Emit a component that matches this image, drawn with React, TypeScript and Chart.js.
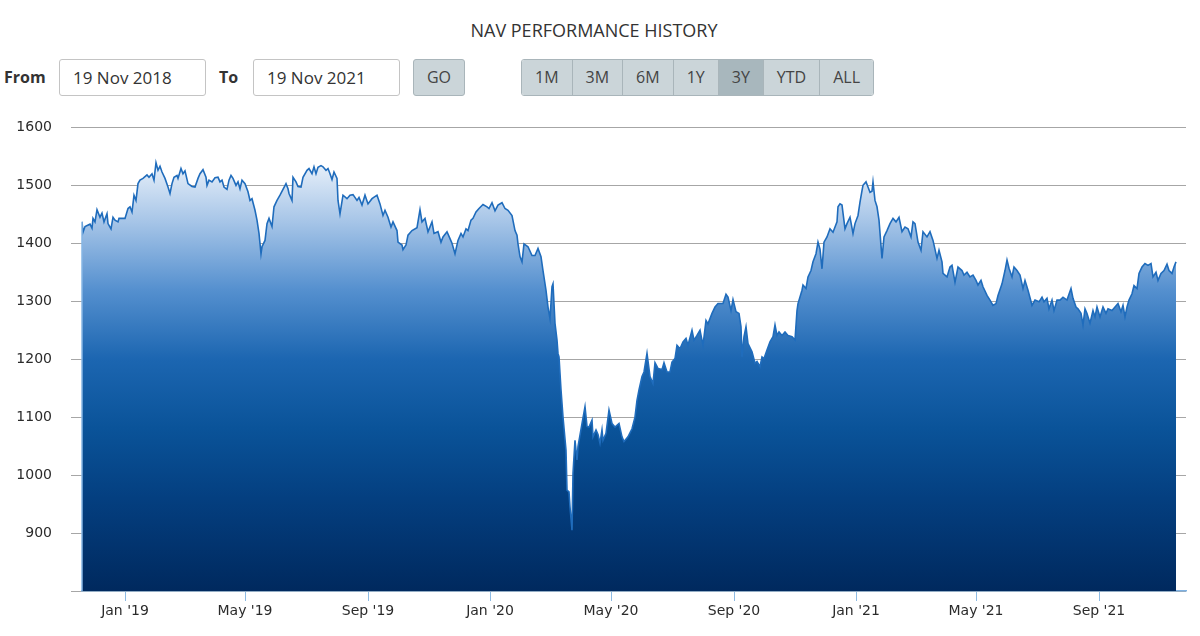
import React, { useEffect, useRef } from 'react';
import { Chart, registerables } from 'chart.js';

Chart.register(...registerables);

// ---- Data (days since 19 Nov 2018, NAV values) ----
const startDate = [2018, 10, 19];

const dayOffsets = [
  0, 1, 3, 8, 10, 11, 13, 15, 18, 20, 22, 25, 26, 29, 31, 33, 36, 37, 43, 46, 48, 50, 52, 54, 56, 58, 61, 65, 67, 70,
  72, 74, 76, 78, 80, 83, 86, 88, 90, 92, 95, 96, 99, 101, 103, 106, 110, 113, 116, 118, 121, 124, 125, 127, 130, 133,
  136, 138, 140, 142, 145, 147, 149, 151, 154, 156, 158, 160, 163, 166, 168, 170, 173, 175, 177, 179, 180, 183, 185,
  187, 190, 192, 195, 198, 201, 204, 206, 207, 210, 211, 214, 216, 219, 221, 225, 227, 230, 232, 234, 236, 239, 241,
  244, 246, 248, 250, 252, 255, 256,
  258, 261, 265, 268, 271, 275, 277, 280, 283, 286, 290, 295, 298, 301, 303, 306, 309, 311, 315, 316, 320, 321, 324,
  326, 330, 335, 338, 340, 343, 346, 350, 352, 356, 359, 361, 365, 368, 370, 373, 376, 379, 381, 384, 386, 389, 391,
  394, 397, 401, 405, 407, 410, 413, 416, 420, 423, 426, 430, 433, 435, 436, 438, 440, 442, 446, 450, 453, 456, 459,
  461, 464, 466, 468, 470, 471, 473, 475, 476, 477, 479, 481, 484, 485, 487, 488, 490, 491, 493, 495, 496, 500, 503,
  505, 507, 510, 511, 514, 516, 518, 520, 521, 524, 527, 530, 533, 537, 540, 542, 546, 550, 553, 555, 557, 560, 562,
  565, 568, 571, 573, 576, 580, 582, 585, 588, 590, 593, 595, 598, 601, 604, 606, 610, 612, 615, 618, 621, 624, 626,
  630, 633, 636, 641, 644, 646, 649, 651, 654, 657, 659, 660, 662, 664, 666, 670, 673, 675, 678, 680, 682, 685, 688,
  691, 693, 695, 697, 700, 703, 706, 710, 713, 715, 716, 720, 721, 724, 726, 729, 731, 734, 736, 738, 740, 742, 745,
  748, 751, 755, 756, 758, 760, 763, 765, 768, 771, 773, 776, 778, 780, 781, 784, 786, 788, 790, 791, 793, 795, 797,
  800, 802, 805, 808, 811, 814, 817,
  820, 823, 826, 829, 831, 833, 836, 839, 841, 845, 848, 851, 855, 857, 860, 861, 865, 868, 870, 873, 876, 880, 882,
  885, 888, 891, 894, 896, 899, 901, 905, 908, 911, 914, 916, 920, 923, 925, 927, 930, 932, 935, 938, 941, 943, 946,
  950, 953, 957, 960, 962, 965, 967, 970, 972, 975, 978, 981, 985, 989, 991, 994, 996, 999, 1001, 1003, 1005, 1008,
  1011, 1013, 1015, 1018, 1021, 1024, 1026, 1030, 1033, 1036, 1039, 1041, 1043, 1045, 1047, 1050, 1052, 1055, 1057,
  1060, 1063, 1066, 1069, 1071, 1074, 1076, 1079, 1082, 1085, 1087, 1090, 1092, 1094,
];

const navValues = [
  1437, 1419, 1429, 1433, 1426, 1443, 1437, 1458, 1445, 1452, 1437, 1451, 1434, 1425, 1445, 1440, 1437, 1443, 1443,
  1460, 1463, 1454, 1483, 1474, 1503, 1509, 1512, 1518, 1514, 1520, 1509, 1539, 1526, 1533, 1523, 1512, 1497, 1486,
  1503, 1514, 1517, 1512, 1529, 1520, 1525, 1503, 1498, 1497, 1512, 1520, 1527, 1514, 1500, 1509, 1506, 1513, 1514,
  1506, 1509, 1497, 1493, 1509, 1517, 1512, 1500, 1506, 1494, 1509, 1503, 1489, 1474, 1477, 1457, 1440, 1417, 1382,
  1394, 1405, 1434, 1443, 1429, 1463, 1474, 1483, 1493, 1503, 1494, 1486, 1474, 1514, 1506, 1498, 1497, 1514, 1526,
  1529, 1520, 1532, 1520, 1531, 1534, 1532, 1526, 1529, 1520, 1510, 1523, 1512, 1474,
  1451, 1483, 1477, 1483, 1484, 1474, 1479, 1466, 1483, 1468, 1477, 1483, 1468, 1448, 1457, 1445, 1428, 1437, 1422,
  1402, 1397, 1389, 1397, 1414, 1422, 1427, 1458, 1437, 1443, 1420, 1437, 1417, 1420, 1402, 1411, 1420, 1408, 1400,
  1382, 1405, 1417, 1411, 1425, 1422, 1440, 1443, 1454, 1460, 1467, 1463, 1460, 1470, 1456, 1466, 1470, 1460, 1457,
  1448, 1422, 1414, 1399, 1377, 1368, 1399, 1394, 1379, 1379, 1391, 1377, 1353, 1319, 1290, 1270, 1325, 1330, 1262,
  1233, 1210, 1204, 1147, 1100, 1043, 974, 971, 945, 905, 1003, 1060, 1026, 1049, 1089, 1118, 1084, 1083, 1095, 1066,
  1078, 1070, 1055, 1078, 1060, 1072, 1112, 1089, 1083, 1089, 1066, 1058, 1066, 1080, 1100, 1129, 1147, 1170, 1178,
  1210, 1170, 1158, 1194, 1184, 1182, 1194, 1178, 1178, 1195, 1201, 1224, 1218, 1230, 1236, 1224, 1250, 1233, 1241,
  1250, 1224, 1267, 1261, 1279, 1290, 1296, 1296, 1312, 1307, 1284, 1303, 1282, 1279, 1256, 1204, 1239, 1256, 1227,
  1213, 1193, 1196, 1187, 1204, 1201, 1216, 1230, 1239, 1259, 1241, 1247, 1241, 1247, 1241, 1239, 1233, 1284, 1296,
  1319, 1328, 1322, 1342, 1353, 1368, 1382, 1402, 1390, 1356, 1402, 1411, 1425, 1419, 1437, 1463, 1468, 1466, 1425,
  1434, 1445, 1417, 1434, 1448, 1471, 1491, 1500, 1506, 1497, 1488, 1490, 1506, 1474, 1463, 1440, 1374, 1411, 1422,
  1434, 1443, 1437, 1445,
  1420, 1428, 1425, 1411, 1437, 1434, 1402, 1388, 1420, 1411, 1420, 1405, 1374, 1388, 1368, 1348, 1342, 1359, 1362,
  1333, 1359, 1353, 1345, 1350, 1342, 1345, 1336, 1328, 1336, 1325, 1310, 1302, 1293, 1296, 1310, 1330, 1353, 1371,
  1357, 1342, 1359, 1353, 1345, 1322, 1336, 1319, 1293, 1302, 1299, 1307, 1299, 1305, 1287, 1302, 1284, 1302, 1302,
  1307, 1302, 1322, 1305, 1290, 1287, 1279, 1259, 1287, 1279, 1262, 1284, 1273, 1290, 1273, 1290, 1279, 1287, 1284,
  1290, 1296, 1282, 1293, 1273, 1290, 1302, 1313, 1327, 1322, 1348, 1359, 1365, 1362, 1365, 1342, 1350, 1336, 1348,
  1353, 1364, 1353, 1348, 1359, 1368,
];

const tickDates = [
  [2019, 0, 1], [2019, 4, 1], [2019, 8, 1], [2020, 0, 1], [2020, 4, 1],
  [2020, 8, 1], [2021, 0, 1], [2021, 4, 1], [2021, 8, 1],
];
const tickLabels = ["Jan '19", "May '19", "Sep '19", "Jan '20", "May '20", "Sep '20", "Jan '21", "May '21", "Sep '21"];

const yMin = 800;
const yMax = 1600;
const yStep = 100;
const xMaxDay = 1104;

const titleText = 'NAV PERFORMANCE HISTORY';
const fromText = '19 Nov 2018';
const toText = '19 Nov 2021';
const rangeButtons = ['1M', '3M', '6M', '1Y', '3Y', 'YTD', 'ALL'];
const selectedRange = '3Y';

const dayMs = 86400000;
const startMs = Date.UTC(startDate[0], startDate[1], startDate[2]);
const tickDays = tickDates.map((d) => Math.round((Date.UTC(d[0], d[1], d[2]) - startMs) / dayMs));

const leftEdgePlugin = {
  id: 'leftEdge',
  afterDatasetsDraw(chart: any) {
    const meta = chart.getDatasetMeta(0);
    const first = meta.data[0];
    if (!first) return;
    const ctx = chart.ctx;
    ctx.save();
    ctx.strokeStyle = '#86b6e4';
    ctx.lineWidth = 1.5;
    ctx.beginPath();
    ctx.moveTo(first.x, first.y);
    ctx.lineTo(first.x, chart.chartArea.bottom);
    ctx.stroke();
    ctx.restore();
  },
};

const font = "'Open Sans', sans-serif";

export default function App() {
  const canvasRef = useRef<HTMLCanvasElement | null>(null);

  useEffect(() => {
    document.body.style.margin = '0';
    const canvas = canvasRef.current;
    if (!canvas) return;
    const points = dayOffsets.map((d, i) => ({ x: d, y: navValues[i] }));

    const chart = new Chart(canvas, {
      type: 'line',
      data: {
        datasets: [
          {
            data: points,
            borderColor: '#1f6cbc',
            borderWidth: 1.6,
            pointRadius: 0,
            tension: 0,
            fill: 'start',
            backgroundColor: (context: any) => {
              const c = context.chart;
              const area = c.chartArea;
              if (!area) return '#1d66b0';
              const g = c.ctx.createLinearGradient(0, area.top, 0, area.bottom);
              g.addColorStop(0, '#ffffff');
              g.addColorStop(0.08, '#e6eff9');
              g.addColorStop(0.2, '#a8c6e8');
              g.addColorStop(0.35, '#5590cf');
              g.addColorStop(0.5, '#1c66b1');
              g.addColorStop(0.65, '#0a5399');
              g.addColorStop(0.8, '#043f80');
              g.addColorStop(1, '#00295e');
              return g;
            },
          },
        ],
      },
      options: {
        animation: false,
        responsive: false,
        maintainAspectRatio: false,
        layout: { padding: { top: 27, right: 14, left: 0, bottom: 0 } },
        plugins: {
          legend: { display: false },
          tooltip: { enabled: false },
          title: { display: false },
        },
        scales: {
          x: {
            type: 'linear',
            min: 0,
            max: xMaxDay,
            afterBuildTicks: (scale: any) => {
              scale.ticks = tickDays.map((v) => ({ value: v }));
            },
            afterFit: (scale: any) => {
              scale.height = 45;
            },
            ticks: {
              autoSkip: false,
              maxRotation: 0,
              padding: 2,
              color: '#2b2b2b',
              font: { family: "'DejaVu Sans', sans-serif", size: 14 },
              callback: (_v: any, i: number) => tickLabels[i],
            },
            grid: {
              display: true,
              drawOnChartArea: false,
              drawTicks: true,
              tickLength: 10,
              color: '#8dbbe4',
              lineWidth: 1,
            },
            border: { display: true, color: '#7fb1e2', width: 1.5 },
          },
          y: {
            type: 'linear',
            min: yMin,
            max: yMax,
            afterFit: (scale: any) => {
              scale.width = 82;
            },
            ticks: {
              stepSize: yStep,
              padding: 19,
              color: '#2b2b2b',
              font: { family: "'DejaVu Sans', sans-serif", size: 14 },
              callback: (v: any) => (v === yMin ? '' : String(v)),
            },
            grid: {
              color: '#a6a6a6',
              lineWidth: 1,
              tickLength: 11,
              drawTicks: true,
            },
            border: { display: false },
          },
        },
      },
      plugins: [leftEdgePlugin],
    } as any);

    return () => chart.destroy();
  }, []);

  const inputStyle: React.CSSProperties = {
    position: 'absolute',
    top: 59,
    height: 37,
    width: 147,
    boxSizing: 'border-box',
    border: '1px solid #c4c4c4',
    borderRadius: 3,
    fontFamily: font,
    fontSize: 17,
    color: '#333',
    lineHeight: '35px',
    paddingLeft: 13,
    background: '#fff',
  };
  const labelStyle: React.CSSProperties = {
    position: 'absolute',
    top: 59,
    height: 37,
    lineHeight: '37px',
    fontFamily: font,
    fontSize: 16,
    fontWeight: 700,
    color: '#333',
  };

  return (
    <div style={{ position: 'relative', width: 1200, height: 636, background: '#fff', overflow: 'hidden' }}>
      <div
        style={{
          position: 'absolute',
          top: 18,
          left: 0,
          width: 1188,
          textAlign: 'center',
          fontFamily: font,
          fontSize: 18,
          color: '#333',
          lineHeight: '24px',
        }}
      >
        {titleText}
      </div>
      <div style={{ ...labelStyle, left: 4 }}>From</div>
      <div style={{ ...inputStyle, left: 59 }}>{fromText}</div>
      <div style={{ ...labelStyle, left: 219 }}>To</div>
      <div style={{ ...inputStyle, left: 253 }}>{toText}</div>
      <div
        style={{
          position: 'absolute',
          left: 413,
          top: 59,
          width: 52,
          height: 37,
          boxSizing: 'border-box',
          border: '1px solid #a9b5ba',
          borderRadius: 3,
          background: '#cbd5d9',
          fontFamily: font,
          fontSize: 16,
          color: '#444',
          textAlign: 'center',
          lineHeight: '35px',
        }}
      >
        GO
      </div>
      <div
        style={{
          position: 'absolute',
          left: 521,
          top: 59,
          height: 37,
          display: 'flex',
          boxSizing: 'border-box',
          border: '1px solid #a9b5ba',
          borderRadius: 3,
          overflow: 'hidden',
        }}
      >
        {rangeButtons.map((b, i) => (
          <div
            key={b}
            style={{
              padding: '0 13px',
              height: 35,
              lineHeight: '35px',
              fontFamily: font,
              fontSize: 16,
              color: '#444',
              background: b === selectedRange ? '#a8b7bd' : '#cbd5d9',
              borderLeft: i === 0 ? 'none' : '1px solid #a9b5ba',
            }}
          >
            {b}
          </div>
        ))}
      </div>
      <canvas
        ref={canvasRef}
        width={1200}
        height={536}
        style={{ position: 'absolute', left: 0, top: 100, width: 1200, height: 536 }}
      />
    </div>
  );
}
